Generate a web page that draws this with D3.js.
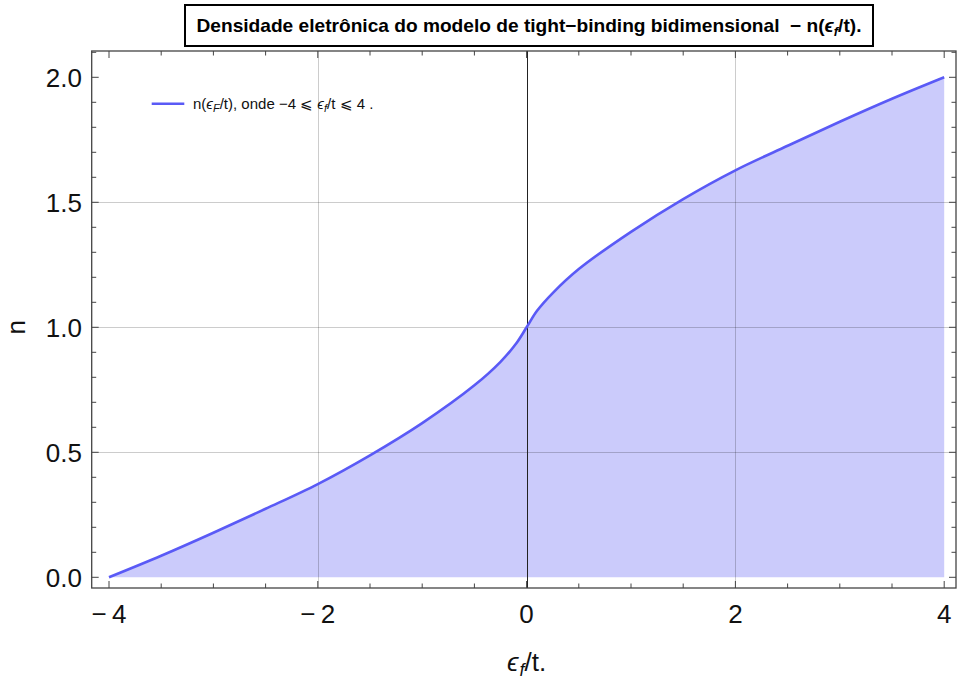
<!DOCTYPE html>
<html>
<head>
<meta charset="utf-8">
<script src="https://cdn.jsdelivr.net/npm/d3@7"></script>
<style>
  html, body { margin: 0; padding: 0; background: #fff; }
  svg { display: block; font-family: "Liberation Sans", Arial, Helvetica, sans-serif; }
  text { white-space: pre; }
</style>
</head>
<body>
<svg id="chart" width="958" height="684"></svg>
<script>
// Filling of electronic states n(eps_F/t) for the 2D tight-binding model
const energies = [-4, -3.5, -3, -2.5, -2, -1.5, -1, -0.5, -0.25, -0.1, 0, 0.1, 0.25, 0.5, 1, 1.5, 2, 2.5, 3, 3.5, 4];
const occupation = [0, 0.086, 0.178, 0.274, 0.373, 0.488, 0.617, 0.768, 0.862, 0.935, 1.0, 1.066, 1.137, 1.233, 1.382, 1.513, 1.628, 1.726, 1.822, 1.914, 2.0];

const xMajorTicks = [-4, -2, 0, 2, 4];
const yMajorTicks = [0, 0.5, 1.0, 1.5, 2.0];
const xGridValues = [-2, 2];
const yGridValues = [0.5, 1.0, 1.5];

const points = energies.map((e, i) => ({ x: e, y: occupation[i] }));

const svg = d3.select("#chart");

// plotting area
const x = d3.scaleLinear().domain([-4, 4]).range([109, 944.2]);
const y = d3.scaleLinear().domain([0, 2]).range([577.3, 77.3]);
const frame = { left: 91.7, right: 956, top: 51, bottom: 588 };

const xMinor = d3.range(-4, 4.001, 0.5).filter(v => !xMajorTicks.some(m => Math.abs(m - v) < 1e-9));
const yMinor = d3.range(0, 2.101, 0.1).filter(v => !yMajorTicks.some(m => Math.abs(m - v) < 1e-9));

const curve = d3.curveCatmullRom.alpha(0.5);

// filled area under the curve
const area = d3.area()
  .x(d => x(d.x))
  .y0(y(0))
  .y1(d => y(d.y))
  .curve(curve);

svg.append("path")
  .datum(points)
  .attr("d", area)
  .attr("fill", "#cbcbfb");

// grid lines
const grid = svg.append("g").attr("stroke", "#000").attr("stroke-opacity", 0.2).attr("stroke-width", 1);
grid.selectAll("line.gx").data(xGridValues).join("line")
  .attr("x1", d => Math.round(x(d)) + 0.5).attr("x2", d => Math.round(x(d)) + 0.5)
  .attr("y1", frame.top).attr("y2", frame.bottom);
grid.selectAll("line.gy").data(yGridValues).join("line")
  .attr("y1", d => Math.round(y(d)) + 0.5).attr("y2", d => Math.round(y(d)) + 0.5)
  .attr("x1", frame.left).attr("x2", frame.right);

// vertical axis through the origin
svg.append("line")
  .attr("x1", Math.round(x(0)) + 0.5).attr("x2", Math.round(x(0)) + 0.5)
  .attr("y1", frame.top).attr("y2", frame.bottom)
  .attr("stroke", "#222").attr("stroke-width", 1);

// the curve itself
const line = d3.line()
  .x(d => x(d.x))
  .y(d => y(d.y))
  .curve(curve);

svg.append("path")
  .datum(points)
  .attr("d", line)
  .attr("fill", "none")
  .attr("stroke", "#5a5af6")
  .attr("stroke-width", 2.6)
  .attr("stroke-linecap", "butt");

// frame
svg.append("rect")
  .attr("x", frame.left).attr("y", frame.top)
  .attr("width", frame.right - frame.left).attr("height", frame.bottom - frame.top)
  .attr("fill", "none").attr("stroke", "#444").attr("stroke-width", 1.3);

// ticks pointing inward on all four sides
const ticks = svg.append("g").attr("stroke", "#444").attr("stroke-width", 1);
function tickSet(values, len) {
  values.forEach(v => {
    const px = x(v);
    ticks.append("line").attr("x1", px).attr("x2", px).attr("y1", frame.bottom).attr("y2", frame.bottom - len);
    ticks.append("line").attr("x1", px).attr("x2", px).attr("y1", frame.top).attr("y2", frame.top + len);
  });
}
function tickSetY(values, len) {
  values.forEach(v => {
    const py = y(v);
    ticks.append("line").attr("y1", py).attr("y2", py).attr("x1", frame.left).attr("x2", frame.left + len);
    ticks.append("line").attr("y1", py).attr("y2", py).attr("x1", frame.right).attr("x2", frame.right - len);
  });
}
tickSet(xMajorTicks, 7);
tickSet(xMinor, 4.5);
tickSetY(yMajorTicks, 7);
tickSetY(yMinor, 4.5);

// tick labels
const fmtX = d => (d < 0 ? "\u2212\u2009" + Math.abs(d) : String(d));
svg.append("g").selectAll("text").data(xMajorTicks).join("text")
  .attr("x", d => x(d)).attr("y", 623)
  .attr("text-anchor", "middle")
  .attr("font-size", 26)
  .attr("fill", "#111")
  .text(fmtX);

svg.append("g").selectAll("text").data(yMajorTicks).join("text")
  .attr("x", 82).attr("y", d => y(d))
  .attr("dy", "0.36em")
  .attr("text-anchor", "end")
  .attr("font-size", 26)
  .attr("fill", "#111")
  .text(d3.format(".1f"));

// axis titles
const xTitle = svg.append("text")
  .attr("x", x(0)).attr("y", 671)
  .attr("text-anchor", "middle")
  .attr("font-size", 26)
  .attr("fill", "#111");
xTitle.append("tspan").attr("font-style", "italic").text("\u03f5");
xTitle.append("tspan").attr("font-style", "italic").attr("font-size", 18).attr("dx", 1).attr("dy", 5).text("f");
xTitle.append("tspan").attr("dy", -5).text("/t.");

svg.append("text")
  .attr("transform", `translate(24.5, ${y(1)}) rotate(-90)`)
  .attr("text-anchor", "middle")
  .attr("font-size", 26)
  .attr("fill", "#111")
  .text("n");

// legend
svg.append("line")
  .attr("x1", 151.7).attr("x2", 184.3)
  .attr("y1", 103.7).attr("y2", 103.7)
  .attr("stroke", "#5a5af6").attr("stroke-width", 2.6);

const leg = svg.append("text")
  .attr("x", 193).attr("y", 108.9)
  .attr("font-size", 15)
  .attr("fill", "#111");
leg.append("tspan").text("n(");
leg.append("tspan").attr("font-style", "italic").text("\u03f5");
leg.append("tspan").attr("font-style", "italic").attr("font-size", 11).attr("dy", 3).text("F");
leg.append("tspan").attr("dy", -3).text("/t), onde \u22124 \u2a7d ");
leg.append("tspan").attr("font-style", "italic").text("\u03f5");
leg.append("tspan").attr("font-style", "italic").attr("font-size", 11).attr("dy", 3).text("f");
leg.append("tspan").attr("dy", -3).text("/t \u2a7d 4 .");

// title box
svg.append("rect")
  .attr("x", 185).attr("y", 5)
  .attr("width", 688).attr("height", 41)
  .attr("fill", "#fff").attr("stroke", "#000").attr("stroke-width", 2);

const title = svg.append("text")
  .attr("x", 529).attr("y", 32)
  .attr("text-anchor", "middle")
  .attr("font-weight", "bold")
  .attr("font-size", 18.5)
  .attr("textLength", 665)
  .attr("lengthAdjust", "spacingAndGlyphs")
  .attr("fill", "#000");
title.append("tspan").text("Densidade eletrônica do modelo de tight\u2212binding bidimensional  \u2212 n(");
title.append("tspan").attr("font-style", "italic").text("\u03f5");
title.append("tspan").attr("font-style", "italic").attr("font-size", 12.5).attr("dy", 4).text("f");
title.append("tspan").attr("dy", -4).text("/t).");
</script>
</body>
</html>
